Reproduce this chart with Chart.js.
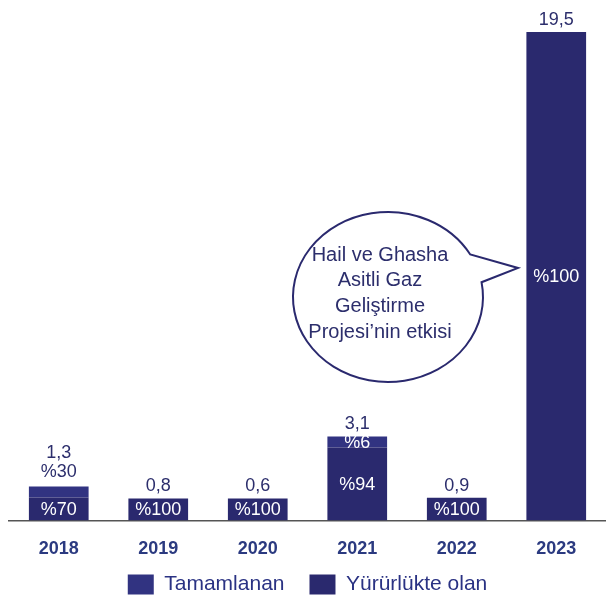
<!DOCTYPE html>
<html>
<head>
<meta charset="utf-8">
<script src="https://cdn.jsdelivr.net/npm/chart.js@4"></script>
<style>
  html, body { margin: 0; padding: 0; background: #fff; overflow: hidden; }
  #wrap { width: 606px; height: 614px; }
</style>
</head>
<body>
<div id="wrap"><canvas id="grafik" width="606" height="614"></canvas></div>
<script>
// veriler
const years = ['2018', '2019', '2020', '2021', '2022', '2023']
const totals = [1.3, 0.8, 0.6, 3.1, 0.9, 19.5]
const tamamlananPct = [30, 0, 0, 6, 0, 0]
const yururlukPct = [70, 100, 100, 94, 100, 100]

// tamamlanan yüzdesi çubuğun üstüne yazılan yıllar
const disEtiketYillari = ['2018']

const koyu = '#2a296e'
const acik = '#313381'
const yaziRengi = '#2c2e6c'

const yururlukVals = totals.map((t, i) => yururlukPct[i] ? t * yururlukPct[i] / 100 : null)
const tamamlananVals = totals.map((t, i) => tamamlananPct[i] ? t * tamamlananPct[i] / 100 : null)

const fmt = v => String(v).replace('.', ',')

// etiketler + konuşma balonu
const etiketler = {
  id: 'etiketler',
  afterDatasetsDraw(chart) {
    const ctx = chart.ctx
    const metaY = chart.getDatasetMeta(0)
    const metaT = chart.getDatasetMeta(1)
    ctx.save()
    ctx.textAlign = 'center'
    ctx.font = '18px "Liberation Sans", Arial, sans-serif'
    years.forEach((y, i) => {
      const bY = metaY.data[i]
      const bT = metaT.data[i]
      let top = bY.y
      if (yururlukPct[i]) {
        ctx.fillStyle = '#fff'
        ctx.textBaseline = 'middle'
        ctx.fillText('%' + yururlukPct[i], bY.x, (bY.y + bY.base) / 2 + 1)
      }
      if (tamamlananPct[i]) {
        top = bT.y
        if (!disEtiketYillari.includes(y)) {
          ctx.fillStyle = '#fff'
          ctx.textBaseline = 'middle'
          ctx.fillText('%' + tamamlananPct[i], bT.x, (bT.y + bT.base) / 2 + 1)
        } else {
          ctx.fillStyle = yaziRengi
          ctx.textBaseline = 'bottom'
          ctx.fillText('%' + tamamlananPct[i], bT.x, top - 6)
          top -= 22
        }
      }
      ctx.fillStyle = yaziRengi
      ctx.textBaseline = 'bottom'
      ctx.fillText(fmt(totals[i]), bY.x, top - 3)
    })

    // balon
    const cx = 388, cy = 297, rx = 95, ry = 85
    const rad = d => d * Math.PI / 180
    ctx.beginPath()
    ctx.ellipse(cx, cy, rx, ry, 0, rad(-10), rad(330), false)
    ctx.lineTo(518, 268)
    ctx.closePath()
    ctx.fillStyle = '#fff'
    ctx.fill()
    ctx.strokeStyle = koyu
    ctx.lineWidth = 2
    ctx.stroke()

    ctx.fillStyle = yaziRengi
    ctx.font = '20px "Liberation Sans", Arial, sans-serif'
    ctx.textBaseline = 'middle'
    const satirlar = ['Hail ve Ghasha', 'Asitli Gaz', 'Geliştirme', 'Projesi\u2019nin etkisi']
    satirlar.forEach((s, k) => ctx.fillText(s, 380, 255 + k * 25.7))
    ctx.restore()
  }
}

Chart.defaults.font.family = '"Liberation Sans", Arial, sans-serif'

const ctx = document.getElementById('grafik')
const graph = new Chart(ctx, {
  type: 'bar',
  data: {
    labels: years,
    datasets: [
      {
        label: 'Yürürlükte olan',
        data: yururlukVals,
        backgroundColor: koyu,
        minBarLength: 22,
        barPercentage: 0.6,
        categoryPercentage: 1
      },
      {
        label: 'Tamamlanan',
        data: tamamlananVals,
        backgroundColor: acik,
        minBarLength: 11,
        barPercentage: 0.6,
        categoryPercentage: 1
      }
    ]
  },
  options: {
    responsive: false,
    animation: false,
    layout: { padding: { top: 32, left: 9, right: 0, bottom: 9 } },
    scales: {
      x: {
        stacked: true,
        grid: { display: false },
        border: { display: true, color: '#555', width: 1.5 },
        ticks: {
          color: '#2b3a80',
          font: { size: 18, weight: 'bold' },
          padding: 10
        }
      },
      y: {
        stacked: true,
        display: false,
        min: 0,
        max: 19.5
      }
    },
    plugins: {
      legend: {
        position: 'bottom',
        reverse: true,
        labels: {
          boxWidth: 26,
          boxHeight: 20,
          color: '#2a3283',
          font: { size: 21 },
          padding: 4,
          // öğeler arasında biraz boşluk
          generateLabels(chart) {
            const items = Chart.defaults.plugins.legend.labels.generateLabels(chart)
            items.forEach(it => { if (it.datasetIndex === 1) it.text += '\u2003' })
            return items
          }
        }
      },
      tooltip: { enabled: false }
    }
  },
  plugins: [etiketler]
})
</script>
</body>
</html>
